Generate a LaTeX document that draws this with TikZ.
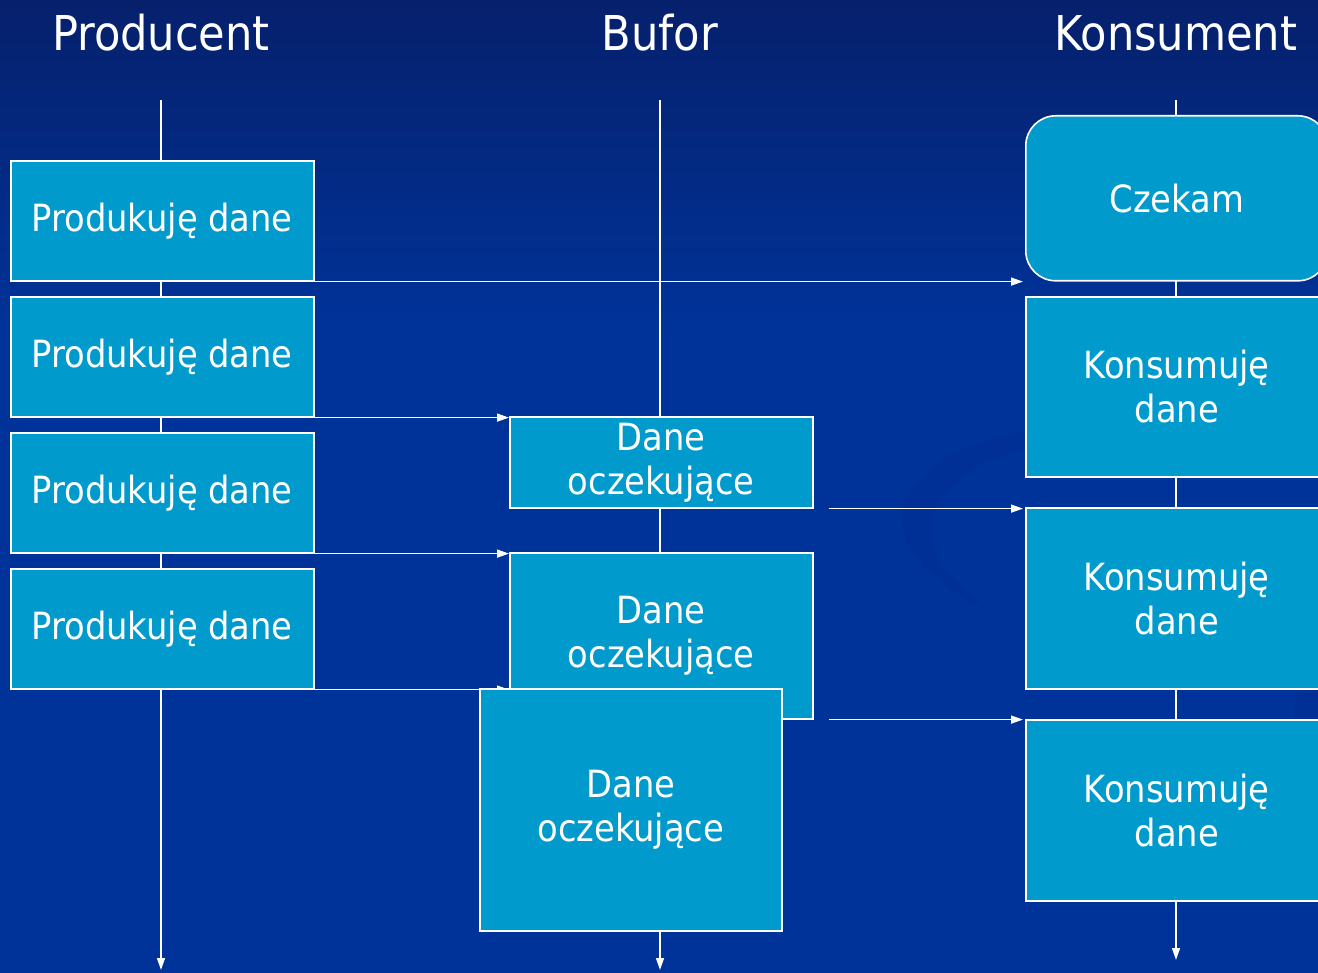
\documentclass[tikz,border=0pt]{standalone}
\usepackage{fontspec}
\setmainfont{DejaVu Sans Condensed}
\usetikzlibrary{arrows.meta,calc}
\definecolor{bgtop}{RGB}{6,32,108}
\definecolor{bgmid}{RGB}{0,51,153}
\definecolor{boxfill}{RGB}{0,154,204}
\definecolor{swirl}{RGB}{0,44,140}
\tikzset{
  box/.style={draw=white, line width=1.6pt, fill=boxfill, text=white, align=center, anchor=north west, inner sep=0pt, font=\fontsize{37.5}{44}\selectfont},
  msg/.style={draw=white, line width=1.5pt, -{Triangle[length=12pt,width=8pt]}},
  title/.style={text=white, font=\fontsize{48}{56}\selectfont, anchor=base}
}
\begin{document}
\begin{tikzpicture}[x=1pt,y=-1pt]
\useasboundingbox (0,0) rectangle (1318,973);
\shade[top color=bgtop, bottom color=bgmid] (0,0) rectangle (1318,330);
\fill[bgmid] (0,329) rectangle (1318,973);
% faint swirl
\fill[swirl, opacity=0.3] (1060,425) .. controls (860,450) and (860,560) .. (1000,615)
   .. controls (900,560) and (900,470) .. (1060,440) -- cycle;
\fill[swirl, opacity=0.3] (1318,640) .. controls (1280,700) and (1290,780) .. (1318,830) -- cycle;

% titles
\node[title] (tP) at (161,51) {Producent};
\node[title] (tB) at (660,51) {Bufor};
\node[title] (tK) at (1176,51) {Konsument};

% lifelines
\coordinate (Ptop) at (161,100); \coordinate (Pbot) at (161,970);
\coordinate (Btop) at (660,100); \coordinate (Bbot) at (660,970);
\coordinate (Ktop) at (1176,100); \coordinate (Kbot) at (1176,960);
\draw[msg] (Ptop) -- (Pbot);
\draw[msg] (Btop) -- (Bbot);
\draw[msg] (Ktop) -- (Kbot);

% producer boxes
\node[box, minimum width=303pt, minimum height=120pt] (p1) at (10,160) {Produkuję dane};
\node[box, minimum width=303pt, minimum height=120pt] (p2) at (10,296) {Produkuję dane};
\node[box, minimum width=303pt, minimum height=120pt] (p3) at (10,432) {Produkuję dane};
\node[box, minimum width=303pt, minimum height=120pt] (p4) at (10,568) {Produkuję dane};

% consumer boxes
\node[box, rounded corners=30pt, minimum width=302pt, minimum height=165pt] (k1) at (1025,115) {Czekam};
\node[box, minimum width=302pt, minimum height=180pt] (k2) at (1025,296) {Konsumuję\\dane};
\node[box, minimum width=302pt, minimum height=181pt] (k3) at (1025,507) {Konsumuję\\dane};
\node[box, minimum width=302pt, minimum height=181pt] (k4) at (1025,719) {Konsumuję\\dane};

% buffer boxes
\node[box, minimum width=303pt, minimum height=91pt] (b1) at (509,416) {Dane\\oczekujące};
\node[box, minimum width=303pt, minimum height=166pt] (b2) at (509,552) {Dane\\oczekujące};
\draw[msg] (p4.south east) -- (p4.south east -| b2.west);
\node[box, minimum width=302pt, minimum height=242pt] (b3) at (479,688) {Dane\\oczekujące};

% messages
\draw[msg] (p1.south east) -- ($(p1.south east -| k1.west)+(-2,0)$);
\draw[msg] (p2.south east) -- (p2.south east -| b1.west);
\draw[msg] (p3.south east) -- (p3.south east -| b2.west);
\draw[msg] ($(b1.south east)+(15,0)$) -- ($(b1.south east -| k3.west)+(-2,0)$);
\draw[msg] ($(b2.south east)+(15,0)$) -- ($(b2.south east -| k4.west)+(-2,0)$);
\end{tikzpicture}
\end{document}
